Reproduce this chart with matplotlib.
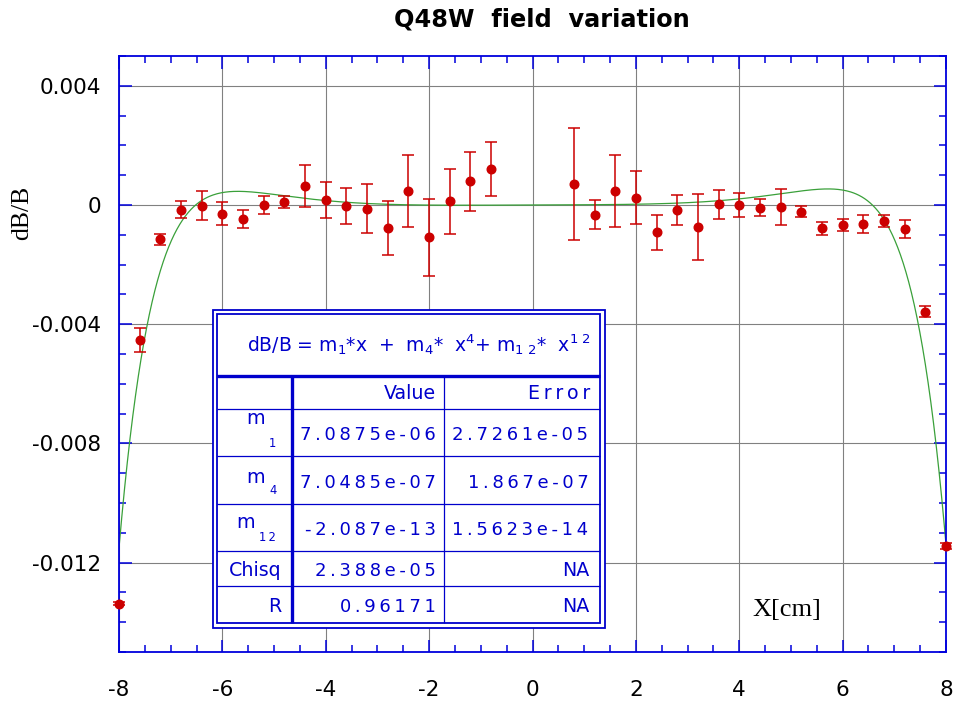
import numpy as np
import matplotlib
matplotlib.use("Agg")
import matplotlib.pyplot as plt
from matplotlib.patches import Rectangle
from matplotlib.ticker import MultipleLocator

plt.rcParams["font.family"] = ["DejaVu Sans"]
plt.rcParams["mathtext.default"] = "regular"
plt.rcParams["axes.unicode_minus"] = False

# measured field variation (dB/B) vs position
x_cm = [-8.0, -7.6, -7.2, -6.8, -6.4, -6.0, -5.6, -5.2, -4.8, -4.4, -4.0, -3.6, -3.2,
        -2.8, -2.4, -2.0, -1.6, -1.2, -0.8, 0.8, 1.2, 1.6, 2.0, 2.4, 2.8, 3.2, 3.6,
        4.0, 4.4, 4.8, 5.2, 5.6, 6.0, 6.4, 6.8, 7.2, 7.6, 8.0]
dbb = [-13.38, -4.53, -1.15, -0.16, -0.03, -0.29, -0.47, 0.01, 0.10, 0.64, 0.16, -0.04, -0.12,
       -0.77, 0.47, -1.08, 0.13, 0.80, 1.20, 0.69, -0.33, 0.47, 0.25, -0.92, -0.18, -0.74, 0.02,
       -0.01, -0.09, -0.06, -0.22, -0.78, -0.67, -0.64, -0.55, -0.82, -3.58, -11.43]
dbb_err = [0.05, 0.40, 0.19, 0.29, 0.49, 0.39, 0.30, 0.30, 0.21, 0.70, 0.60, 0.60, 0.81,
           0.90, 1.21, 1.29, 1.09, 0.99, 0.90, 1.88, 0.49, 1.21, 0.89, 0.60, 0.50, 1.11, 0.50,
           0.40, 0.28, 0.60, 0.18, 0.21, 0.20, 0.30, 0.20, 0.30, 0.19, 0.10]

# fit parameters shown in the table
m1, m4, m12 = 7.0875e-06, 7.0485e-07, -2.087e-13
param_subs = ["1", "4", "1 2"]
row_values = ["7.0875e-06", "7.0485e-07", "-2.087e-13", "2.388e-05", "0.96171"]
row_errors = ["2.7261e-05", "1.867e-07", "1.5623e-14", "NA", "NA"]
stat_labels = ["Chisq", "R"]

BLUE = "#0000dd"
TBL = "#0000cc"
RED = "#cc0000"

W, H = 956, 704
fig = plt.figure(figsize=(W / 100, H / 100), dpi=100)
L, R, T, B = 119, 946, 56, 652
ax = fig.add_axes([L / W, 1 - B / H, (R - L) / W, (B - T) / H])

ax.set_xlim(-8, 8)
ax.set_ylim(-0.015, 0.005)
ax.set_xticks([-8, -6, -4, -2, 0, 2, 4, 6, 8])
ax.set_xticklabels(["-8", "-6", "-4", "-2", "0", "2", "4", "6", "8"])
ax.xaxis.set_minor_locator(MultipleLocator(0.5))
ax.set_yticks([-0.012, -0.008, -0.004, 0, 0.004])
ax.set_yticklabels(["-0.012", "-0.008", "-0.004", "0", "0.004"])
ax.yaxis.set_minor_locator(MultipleLocator(0.001))
ax.tick_params(which="both", direction="in", top=True, right=True, color=BLUE, width=1.1)
ax.tick_params(which="major", length=9)
ax.tick_params(which="minor", length=5)
ax.tick_params(axis="y", labelsize=15.5, pad=13)
ax.tick_params(axis="x", labelsize=15.5, pad=20)
for s in ax.spines.values():
    s.set_color(BLUE)
    s.set_linewidth(1.3)
ax.grid(True, which="major", color="#808080", lw=0.8)
ax.set_axisbelow(True)

xf = np.linspace(-8, 8, 600)
yf = m1 * xf + m4 * xf ** 4 + m12 * xf ** 12
ax.plot(xf, yf, color="#3aa03a", lw=0.9, zorder=2)

y = np.array(dbb) * 1e-3
e = np.array(dbb_err) * 1e-3
ax.errorbar(x_cm, y, yerr=e, fmt="o", color=RED, ms=6.2, capsize=4.5, elinewidth=1.1,
            capthick=1.1, zorder=3, clip_on=False)

ax.text(4.93, -0.01359, "X[cm]", family="Liberation Serif", fontsize=19, ha="center", va="center")

fig.text(541.7 / W, 1 - 20 / H, "Q48W  field  variation", fontsize=17.3, fontweight="bold",
         ha="center", va="center")
fig.text(22.5 / W, 1 - 213 / H, "dB/B", family="Liberation Serif", fontsize=18.5, rotation=90,
         ha="center", va="center")


# ---- parameter table, placed by pixel positions inside the axes box ----
def fx(px):
    return (px - L) / (R - L)


def fy(py):
    return (B - py) / (B - T)


tr = ax.transAxes
ax.add_patch(Rectangle((fx(213.3), fy(628.3)), fx(605) - fx(213.3), fy(310) - fy(628.3),
                       transform=tr, facecolor="white", edgecolor=TBL, lw=1.3, zorder=5, clip_on=False))
ax.add_patch(Rectangle((fx(217.3), fy(622.7)), fx(600) - fx(217.3), fy(314) - fy(622.7),
                       transform=tr, facecolor="none", edgecolor=TBL, lw=1.3, zorder=6, clip_on=False))


def hline(py, lw):
    ax.plot([fx(217.3), fx(600)], [fy(py), fy(py)], transform=tr, color=TBL, lw=lw, zorder=6,
            clip_on=False, solid_capstyle="butt")


def vline(px, lw):
    ax.plot([fx(px), fx(px)], [fy(376), fy(622.7)], transform=tr, color=TBL, lw=lw, zorder=6,
            clip_on=False, solid_capstyle="butt")


hline(376, 2.4)
for py in [409.3, 456, 504, 551, 586]:
    hline(py, 0.9)
vline(291.7, 2.4)
vline(444, 0.9)


def spaced(s):
    return "\u2009".join(s)


tkw = dict(transform=tr, color=TBL, zorder=7, va="baseline", clip_on=False)
ax.text(fx(419), fy(352), "dB/B = m$_1$*x  +  m$_4$*  x$^4$+ m$_{1\\ 2}$*  x$^{1\\ 2}$",
        fontsize=13.5, ha="center", **tkw)
ax.text(fx(436), fy(399), "Value", fontsize=13.7, ha="right", **tkw)
ax.text(fx(590), fy(399), spaced("Error"), fontsize=13.7, ha="right", **tkw)

# parameter rows: "m" raised, its index dropped below the number baseline
base_num = [439.5, 488.3, 535]
m_base = [423.5, 482.7, 528.3]
m_right = [265, 265, 255]
sub_base = [446.7, 494, 540.7]
for sub, val, err, bn, mb, mr, sb in zip(param_subs, row_values, row_errors,
                                         base_num, m_base, m_right, sub_base):
    ax.text(fx(mr), fy(mb), "m", fontsize=13.7, ha="right", **tkw)
    ax.text(fx(mr + 4), fy(sb), spaced(sub.replace(" ", "")), fontsize=8.3, ha="left", **tkw)
    ax.text(fx(436), fy(bn), spaced(val), fontsize=13.0, ha="right", **tkw)
    ax.text(fx(588.5), fy(bn), spaced(err), fontsize=13.0, ha="right", **tkw)

for lab, val, err, bn in zip(stat_labels, row_values[3:], row_errors[3:], [576, 611.7]):
    ax.text(fx(281.7), fy(bn), lab, fontsize=13.7, ha="right", **tkw)
    ax.text(fx(436), fy(bn), spaced(val), fontsize=13.0, ha="right", **tkw)
    ax.text(fx(589), fy(bn), err if err == "NA" else spaced(err), fontsize=13.7, ha="right", **tkw)

fig.savefig("out.png", dpi=100)
